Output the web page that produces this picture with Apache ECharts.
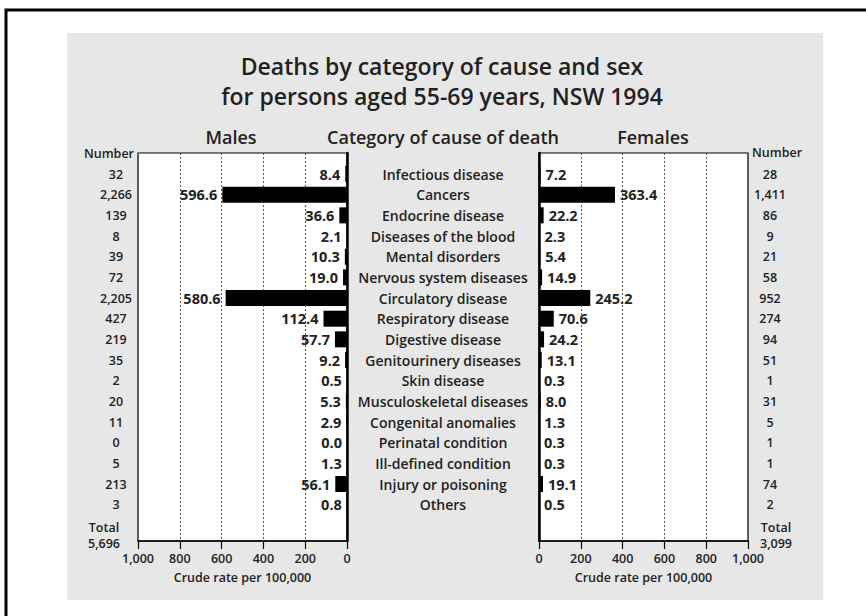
<!DOCTYPE html>
<html>
<head>
<meta charset="utf-8">
<script src="https://cdn.jsdelivr.net/npm/echarts@6/dist/echarts.min.js"></script>
<style>
html,body{margin:0;padding:0;background:#fff;}
#chart{width:866px;height:616px;}
</style>
</head>
<body>
<div id="chart"></div>
<script>
const categories = ['Infectious disease','Cancers','Endocrine disease','Diseases of the blood','Mental disorders','Nervous system diseases','Circulatory disease','Respiratory disease','Digestive disease','Genitourinery diseases','Skin disease','Musculoskeletal diseases','Congenital anomalies','Perinatal condition','Ill-defined condition','Injury or poisoning','Others'];
const maleRates = [8.4,596.6,36.6,2.1,10.3,19.0,580.6,112.4,57.7,9.2,0.5,5.3,2.9,0.0,1.3,56.1,0.8];
const femaleRates = [7.2,363.4,22.2,2.3,5.4,14.9,245.2,70.6,24.2,13.1,0.3,8.0,1.3,0.3,0.3,19.1,0.5];
const maleNumbers = [32,2266,139,8,39,72,2205,427,219,35,2,20,11,0,5,213,3];
const femaleNumbers = [28,1411,86,9,21,58,952,274,94,51,1,31,5,1,1,74,2];
const maleTotal = 5696;
const femaleTotal = 3099;
const rateTicks = [0,200,400,600,800,1000];

const FONT = '"Open Sans", "DejaVu Sans", sans-serif';
const TXT = '#222';
const fmt = v => Number(v).toLocaleString('en-US');

const frameL = {left:138, top:153, width:209, height:388};
const frameR = {left:539, top:153, width:209, height:388};
const dataTop = 163.7, dataH = 351.3;

function frameXAxis(gridIndex, inverse){
  return {
    type:'value', gridIndex, min:rateTicks[0], max:rateTicks[rateTicks.length-1], interval:200, inverse,
    axisLine:{show:true, lineStyle:{color:'#000', width:1.5}},
    axisTick:{show:true, inside:false, length:8, lineStyle:{color:'#000', width:1.2}},
    axisLabel:{show:true, margin:11, formatter:fmt, color:TXT, fontFamily:FONT, fontWeight:600, fontSize:12.5},
    splitLine:{show:true, lineStyle:{color:'#555', type:[2,2], width:1}},
    name:'Crude rate per 100,000', nameLocation:'middle', nameGap:30,
    nameTextStyle:{color:TXT, fontFamily:FONT, fontWeight:600, fontSize:12.5}
  };
}
function hiddenXAxis(gridIndex, inverse){
  return {type:'value', gridIndex, min:rateTicks[0], max:rateTicks[rateTicks.length-1], inverse, show:false};
}

const option = {
  animation:false,
  backgroundColor:'#fff',
  graphic:[
    {type:'rect', z:-10, shape:{x:6, y:10, width:880, height:630}, style:{fill:'#fff', stroke:'#000', lineWidth:3}},
    {type:'rect', z:-9, shape:{x:67, y:33, width:756, height:567}, style:{fill:'#e7e7e7'}},
    {type:'text', x:442, y:66, style:{text:'Deaths by category of cause and sex', font:'600 23px '+FONT, fill:TXT, align:'center', verticalAlign:'middle'}},
    {type:'text', x:442, y:96, style:{text:'for persons aged 55-69 years, NSW 1994', font:'600 23px '+FONT, fill:TXT, align:'center', verticalAlign:'middle'}},
    {type:'text', x:231, y:137, style:{text:'Males', font:'600 18px '+FONT, fill:TXT, align:'center', verticalAlign:'middle'}},
    {type:'text', x:443, y:137, style:{text:'Category of cause of death', font:'600 18px '+FONT, fill:TXT, align:'center', verticalAlign:'middle'}},
    {type:'text', x:653, y:137, style:{text:'Females', font:'600 18px '+FONT, fill:TXT, align:'center', verticalAlign:'middle'}},
    {type:'text', x:134, y:153, style:{text:'Number', font:'600 12.5px '+FONT, fill:TXT, align:'right', verticalAlign:'middle'}},
    {type:'text', x:752, y:152, style:{text:'Number', font:'600 12.5px '+FONT, fill:TXT, align:'left', verticalAlign:'middle'}},
    {type:'text', x:104, y:535, style:{text:'Total\n'+fmt(maleTotal), font:'600 12.5px '+FONT, lineHeight:16, fill:TXT, align:'center', verticalAlign:'middle'}},
    {type:'text', x:776, y:535, style:{text:'Total\n'+fmt(femaleTotal), font:'600 12.5px '+FONT, lineHeight:16, fill:TXT, align:'center', verticalAlign:'middle'}}
  ],
  grid:[
    Object.assign({show:true, backgroundColor:'#fff', borderColor:'#000', borderWidth:1.2}, frameL),
    {left:frameL.left, top:dataTop, width:frameL.width, height:dataH},
    Object.assign({show:true, backgroundColor:'#fff', borderColor:'#000', borderWidth:1.2}, frameR),
    {left:frameR.left, top:dataTop, width:frameR.width, height:dataH}
  ],
  xAxis:[
    frameXAxis(0, true),
    hiddenXAxis(1, true),
    frameXAxis(2, false),
    hiddenXAxis(3, false)
  ],
  yAxis:[
    {type:'value', gridIndex:0, min:0, max:1, position:'right', axisLine:{show:true, lineStyle:{color:'#000', width:2.5}}, axisTick:{show:false}, axisLabel:{show:false}, splitLine:{show:false}},
    {type:'category', gridIndex:1, data:categories, inverse:true, position:'left',
      axisLine:{show:false}, axisTick:{show:false},
      axisLabel:{show:true, margin:22, align:'center', color:TXT, fontFamily:FONT, fontWeight:600, fontSize:12.5, formatter:(v,i)=>fmt(maleNumbers[i])}},
    {type:'category', gridIndex:1, data:categories, inverse:true, position:'right',
      axisLine:{show:false}, axisTick:{show:false},
      axisLabel:{show:true, margin:96, align:'center', color:TXT, fontFamily:FONT, fontWeight:600, fontSize:14}},
    {type:'value', gridIndex:2, min:0, max:1, position:'left', axisLine:{show:true, lineStyle:{color:'#000', width:2.5}}, axisTick:{show:false}, axisLabel:{show:false}, splitLine:{show:false}},
    {type:'category', gridIndex:3, data:categories, inverse:true, position:'right',
      axisLine:{show:false}, axisTick:{show:false},
      axisLabel:{show:true, margin:22, align:'center', color:TXT, fontFamily:FONT, fontWeight:600, fontSize:12.5, formatter:(v,i)=>fmt(femaleNumbers[i])}}
  ],
  series:[
    {type:'bar', name:'Males', xAxisIndex:1, yAxisIndex:1, data:maleRates, barWidth:16, itemStyle:{color:'#000'},
      label:{show:true, position:'left', distance:5, color:TXT, fontFamily:FONT, fontWeight:700, fontSize:14.5, formatter:p=>p.value.toFixed(1)}},
    {type:'bar', name:'Females', xAxisIndex:3, yAxisIndex:4, data:femaleRates, barWidth:16, itemStyle:{color:'#000'},
      label:{show:true, position:'right', distance:5, color:TXT, fontFamily:FONT, fontWeight:700, fontSize:14.5, formatter:p=>p.value.toFixed(1)}}
  ]
};

const chart = echarts.init(document.getElementById('chart'), null, {renderer:'svg'});
chart.setOption(option);
</script>
</body>
</html>
